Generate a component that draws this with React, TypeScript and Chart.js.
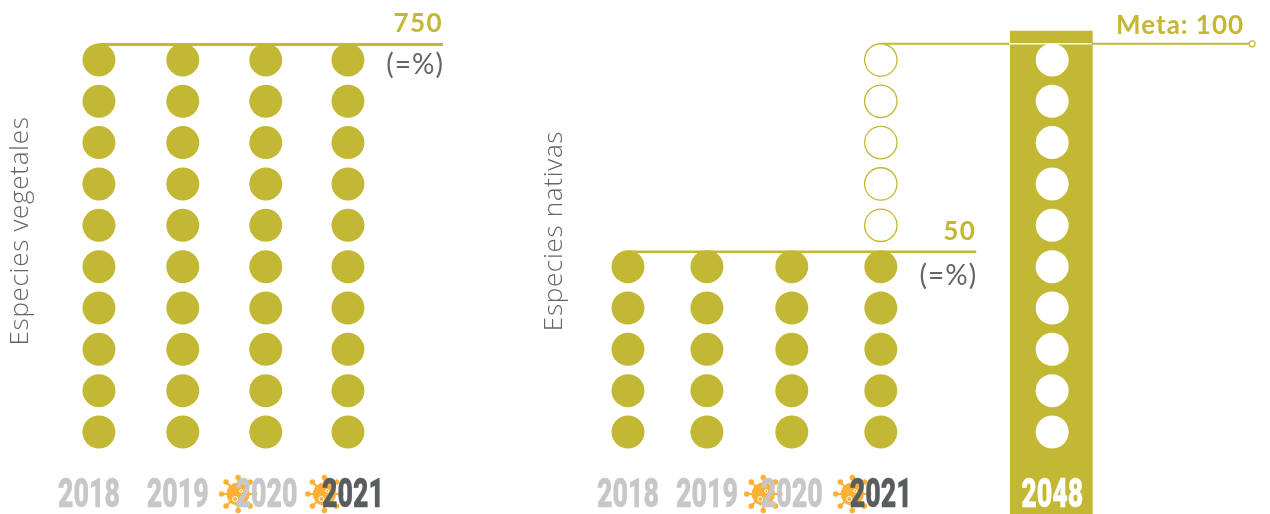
import React, { useEffect, useRef } from "react";
import { Chart, registerables } from "chart.js";

Chart.register(...registerables);

const OLIVE = "#C2B834";
const GREY_TEXT = "#63676A";
const GREY_YEAR = "#C6C7C9";
const DARK_YEAR = "#595D5E";
const VIRUS = "#FBB234";

// each dot = 10 %
const rowValues = [10, 20, 30, 40, 50, 60, 70, 80, 90, 100];

const leftYears = ["2018", "2019", "2020", "2021"];
const leftDotSlots = [0, 1.01, 2.01, 3];
const leftTickSlots = [-0.12, 0.95, 2.02, 3.06];
const leftFilled = [10, 10, 10, 10];
const leftRuleValue = 103.75;
const leftRuleEnd = 4.145;

const rightYears = ["2018", "2019", "2020", "2021", "2048"];
const rightDotSlots = [0, 0.94, 1.95, 3.01];
const rightTickSlots = [0, 0.94, 1.95, 3.01, 5.05];
const rightFilled = [5, 5, 5, 5];
const rightOpen = [0, 0, 0, 5];
const targetSlot = 5.05;
const targetBarSlot = 5.04;
const targetBar: [number, number] = [-9.84, 107];
const nationalRuleValue = 53.6;
const nationalRuleEnd = 4.145;
const metaRuleValue = 103.9;
const metaRuleEnd = 7.43;
const barEdges = [4.54, 5.52];

const pandemicYears = ["2020", "2021"];

type Note = { text: string; slot: number; value: number; dy: number; dx: number; font: string; color: string; spacing: string };

const yearPlugin = {
  id: "yearLabels",
  beforeDraw(chart: any) {
    // the axis title is set a little wide, as in the original
    chart.ctx.letterSpacing = "0.7px";
  },
  afterDraw(chart: any) {
    const { ctx } = chart;
    ctx.letterSpacing = "0px";
    const x = chart.scales.x;
    const area = chart.chartArea;
    const mid = area.bottom + 32;
    const notes: Note[] = chart.options.plugins.yearLabels.notes;
    ctx.save();
    // viruses first, the years sit above them
    x.ticks.forEach((t: any) => {
      if (!pandemicYears.includes(t.label)) return;
      drawVirus(ctx, x.getPixelForValue(t.value) - 28.5, mid);
    });
    ctx.textAlign = "center";
    ctx.textBaseline = "alphabetic";
    ctx.font = "900 40px Roboto";
    ctx.lineWidth = 0.4;
    ctx.lineJoin = "round";
    x.ticks.forEach((t: any) => {
      const c = t.label === "2021" ? DARK_YEAR : t.label === "2048" ? "#FFFFFF" : GREY_YEAR;
      ctx.fillStyle = c;
      ctx.strokeStyle = c;
      const px = x.getPixelForValue(t.value);
      ctx.fillText(t.label, px, area.bottom + 45, 62);
      ctx.strokeText(t.label, px, area.bottom + 45, 62);
    });
    const y = chart.scales.y;
    notes.forEach((n) => {
      ctx.textAlign = "right";
      ctx.font = n.font;
      ctx.fillStyle = n.color;
      ctx.letterSpacing = n.spacing;
      ctx.fillText(n.text, x.getPixelForValue(n.slot) + n.dx, y.getPixelForValue(n.value) + n.dy);
    });
    ctx.restore();
  },
};

function drawVirus(ctx: CanvasRenderingContext2D, cx: number, cy: number) {
  ctx.save();
  ctx.translate(cx, cy);
  ctx.fillStyle = VIRUS;
  ctx.strokeStyle = VIRUS;
  ctx.lineWidth = 2;
  for (let i = 0; i < 8; i++) {
    const a = (i * Math.PI) / 4;
    const r = i % 2 === 0 ? 16.5 : 17;
    ctx.beginPath();
    ctx.moveTo(0, 0);
    ctx.lineTo(Math.cos(a) * r, Math.sin(a) * r);
    ctx.stroke();
    ctx.beginPath();
    ctx.arc(Math.cos(a) * r, Math.sin(a) * r, 2.8, 0, Math.PI * 2);
    ctx.fill();
  }
  ctx.beginPath();
  ctx.arc(0, 0, 11.5, 0, Math.PI * 2);
  ctx.fill();
  ctx.strokeStyle = "#FFFFFF";
  ctx.lineWidth = 1;
  ctx.beginPath();
  ctx.arc(-3, 5, 2.5, 0, Math.PI * 2);
  ctx.stroke();
  ctx.beginPath();
  ctx.arc(3, -3, 1.5, 0, Math.PI * 2);
  ctx.stroke();
  ctx.restore();
}

function dotData(slots: number[], from: number[], count: number[]) {
  return slots.flatMap((s, i) =>
    rowValues.slice(from[i], from[i] + count[i]).map((v) => ({ x: s, y: v }))
  );
}

function filledDots(data: any[]) {
  return {
    type: "scatter",
    data,
    pointRadius: 16.5,
    pointBackgroundColor: OLIVE,
    pointBorderWidth: 0,
    clip: false,
    order: 2,
  };
}

function rule(x0: number, x1: number, value: number, width: number, color: string, order: number) {
  return {
    type: "line",
    data: [
      { x: x0, y: value },
      { x: x1, y: value },
    ],
    borderColor: color,
    borderWidth: width,
    pointRadius: 0,
    clip: false,
    order,
  };
}

function baseOptions(
  title: string,
  xMin: number,
  xMax: number,
  tickSlots: number[],
  years: string[],
  notes: Note[]
): any {
  return {
    responsive: false,
    animation: false,
    layout: { padding: 0, autoPadding: false },
    plugins: {
      legend: { display: false },
      tooltip: { enabled: false },
      yearLabels: { notes },
    },
    scales: {
      x: {
        type: "linear",
        min: xMin,
        max: xMax,
        offset: false,
        grid: { display: false },
        border: { display: false },
        afterBuildTicks: (s: any) => {
          s.ticks = tickSlots.map((v) => ({ value: v }));
        },
        afterFit: (s: any) => {
          s.height = 52;
        },
        ticks: {
          display: false,
          autoSkip: false,
          callback: (_v: any, i: number) => years[i],
        },
      },
      y: {
        type: "linear",
        min: 2.74,
        max: 114.5,
        grid: { display: false },
        border: { display: false },
        afterFit: (s: any) => {
          s.width = 45;
        },
        ticks: { display: false },
        title: {
          display: true,
          text: title,
          color: GREY_TEXT,
          font: { family: "Open Sans", size: 26, weight: "300" },
          padding: { top: 5, bottom: 0 },
        },
      },
    },
  };
}

const VALUE_FONT = "bold 26px Lato";
const UNIT_FONT = "400 28px Lato";

export default function App() {
  const leftRef = useRef<HTMLCanvasElement>(null);
  const rightRef = useRef<HTMLCanvasElement>(null);

  useEffect(() => {
    const left = new Chart(leftRef.current!, {
      type: "scatter",
      data: {
        datasets: [
          rule(0, leftRuleEnd, leftRuleValue, 3, OLIVE, 1),
          filledDots(dotData(leftDotSlots, leftDotSlots.map(() => 0), leftFilled)),
        ] as any,
      },
      options: baseOptions("Especies vegetales", -0.65, 4.832, leftTickSlots, leftYears, [
        { text: "750", slot: leftRuleEnd, value: leftRuleValue, dy: -12, dx: 0, font: VALUE_FONT, color: OLIVE, spacing: "1.4px" },
        { text: "(=%)", slot: leftRuleEnd, value: leftRuleValue, dy: 30, dx: 1, font: UNIT_FONT, color: GREY_TEXT, spacing: "1px" },
      ]),
      plugins: [yearPlugin],
    });

    const right = new Chart(rightRef.current!, {
      type: "scatter",
      data: {
        datasets: [
          {
            type: "scatter",
            data: rowValues.map((v) => ({ x: targetSlot, y: v })),
            pointRadius: 16.5,
            pointBackgroundColor: "#FFFFFF",
            pointBorderWidth: 0,
            clip: false,
            order: 0,
          },
          rule(barEdges[0], barEdges[1], metaRuleValue, 1.5, "#FFFFFF", 1),
          rule(0, nationalRuleEnd, nationalRuleValue, 2.5, OLIVE, 1),
          filledDots(dotData(rightDotSlots, rightDotSlots.map(() => 0), rightFilled)),
          {
            type: "scatter",
            data: dotData(rightDotSlots, rightFilled, rightOpen),
            pointRadius: 16.2,
            pointBackgroundColor: "#FFFFFF",
            pointBorderColor: OLIVE,
            pointBorderWidth: 1.3,
            clip: false,
            order: 3,
          },
          {
            type: "bar",
            data: [{ x: targetBarSlot, y: targetBar }],
            backgroundColor: OLIVE,
            barThickness: 82,
            clip: false,
            order: 4,
          },
          {
            type: "scatter",
            data: [{ x: metaRuleEnd, y: metaRuleValue }],
            pointRadius: 3,
            pointBackgroundColor: "#FFFFFF",
            pointBorderColor: OLIVE,
            pointBorderWidth: 1.2,
            clip: false,
            order: 0,
          },
          rule(rightDotSlots[3], metaRuleEnd, metaRuleValue, 2, OLIVE, 5),
        ] as any,
      },
      options: baseOptions("Especies nativas", -0.583, 7.643, rightTickSlots, rightYears, [
        { text: "50", slot: nationalRuleEnd, value: nationalRuleValue, dy: -12, dx: 0, font: VALUE_FONT, color: OLIVE, spacing: "1.4px" },
        { text: "(=%)", slot: nationalRuleEnd, value: nationalRuleValue, dy: 33, dx: 1, font: UNIT_FONT, color: GREY_TEXT, spacing: "1px" },
        { text: "Meta: 100", slot: metaRuleEnd, value: metaRuleValue, dy: -10, dx: -8, font: VALUE_FONT, color: OLIVE, spacing: "1px" },
      ]),
      plugins: [yearPlugin],
    });

    return () => {
      left.destroy();
      right.destroy();
    };
  }, []);

  return (
    <div style={{ position: "absolute", left: 0, top: 0, width: 1270, height: 514, overflow: "hidden", background: "#fff" }}>
      <canvas ref={leftRef} width={500} height={514} style={{ position: "absolute", left: 0, top: 0 }} />
      <canvas ref={rightRef} width={736} height={514} style={{ position: "absolute", left: 534, top: 0 }} />
    </div>
  );
}
